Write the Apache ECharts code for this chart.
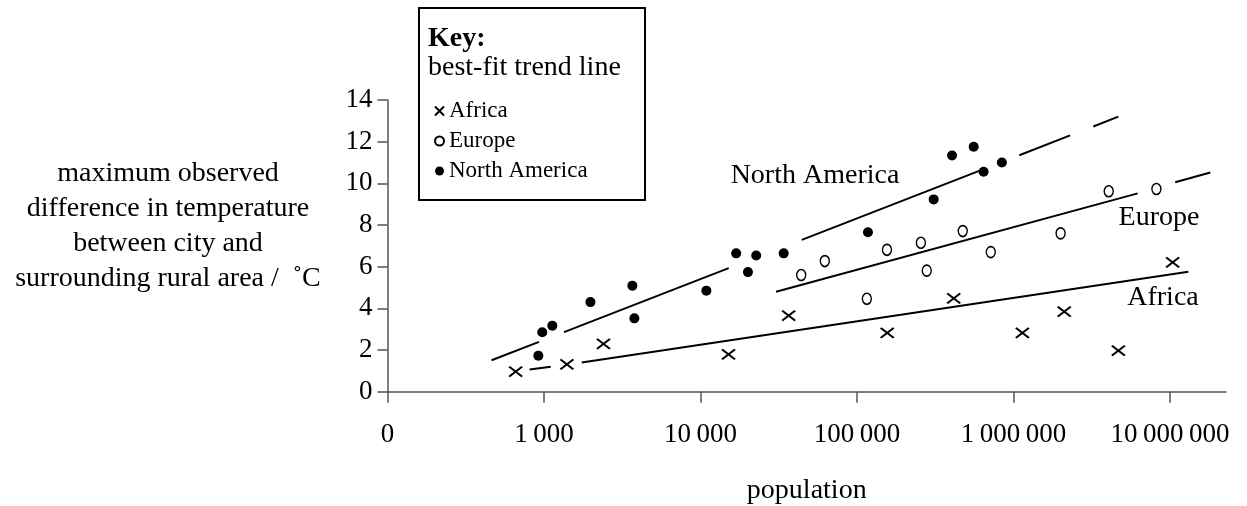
<!DOCTYPE html>
<html>
<head>
<meta charset="utf-8">
<script src="https://cdn.jsdelivr.net/npm/echarts@6/dist/echarts.min.js"></script>
<style>
html,body{margin:0;padding:0;background:#fff;}
#c{width:1247px;height:506px;}
</style>
</head>
<body>
<div id="c"></div>
<script>
// ---- data ----
const xTickValues = [100, 1000, 10000, 100000, 1000000, 10000000];
const xTickLabels = ['0', '1\u2009000', '10\u2009000', '100\u2009000', '1\u2009000\u2009000', '10\u2009000\u2009000'];

const africaPop = [659, 1400, 2400, 15100, 36600, 156000, 415000, 1140000, 2110000, 4680000, 10400000];
const africaVal = [0.96, 1.31, 2.29, 1.79, 3.65, 2.82, 4.48, 2.82, 3.84, 1.97, 6.21];

const europePop = [44000, 62300, 115600, 155400, 256000, 279000, 474000, 716000, 2000000, 4060000, 8190000];
const europeVal = [5.60, 6.27, 4.46, 6.81, 7.15, 5.81, 7.71, 6.70, 7.60, 9.62, 9.73];

const naPop = [920, 975, 1130, 1980, 3670, 3780, 10900, 16900, 20100, 22700, 34000, 117500, 309000, 405000, 557000, 644000, 843000];
const naVal = [1.73, 2.85, 3.17, 4.30, 5.09, 3.52, 4.85, 6.64, 5.74, 6.54, 6.64, 7.65, 9.23, 11.34, 11.76, 10.56, 11.00];

// best-fit trend lines, drawn as broken segments (null = gap)
const naTrendPop = [462, 929, null, 1343, 15140, null, 44360, 609500, null, 1089000, 2301000, null, 3236000, 4677000];
const naTrendVal = [1.51, 2.39, null, 2.86, 5.93, null, 7.29, 10.61, null, 11.35, 12.30, null, 12.73, 13.20];
const euTrendPop = [30400, 6220000, null, 10800000, 18100000];
const euTrendVal = [4.80, 9.52, null, 10.05, 10.52];
const afTrendPop = [809, 1104, null, 1742, 13100000];
const afTrendVal = [1.07, 1.20, null, 1.40, 5.76];

// ---- build ----
const FONT = "'Liberation Serif','Times New Roman',serif";
const AXC = '#555';
const CROSS = 'path://M0,0L10,10M0,10L10,0';
function pts(xs, ys) { return xs.map((x, i) => (x === null ? ['-', '-'] : [x, ys[i]])); }
function labelFor(v) {
  const r = Math.round(v);
  const i = xTickValues.findIndex(t => Math.abs(t - r) / t < 1e-6);
  return i >= 0 ? xTickLabels[i] : '';
}
const trendStyle = { type: 'line', symbol: 'none', connectNulls: false, silent: true,
  lineStyle: { color: '#000', width: 2 }, z: 2 };

const chart = echarts.init(document.getElementById('c'), null, { renderer: 'canvas' });
chart.setOption({
  animation: false,
  backgroundColor: '#fff',
  textStyle: { fontFamily: FONT, color: '#000' },
  grid: { left: 387.5, right: 21, top: 100, bottom: 114.3, containLabel: false, outerBoundsMode: 'none' },
  xAxis: {
    type: 'log', logBase: 10, min: 100, max: 22800000,
    name: 'population', nameLocation: 'middle', nameGap: 85,
    nameTextStyle: { fontFamily: FONT, fontSize: 28, color: '#000' },
    axisLine: { lineStyle: { color: AXC, width: 1.5 } },
    axisTick: { length: 11, lineStyle: { color: AXC, width: 1.5 }, customValues: xTickValues },
    axisLabel: { fontFamily: FONT, fontSize: 27, color: '#000', margin: 30,
      customValues: xTickValues, formatter: labelFor },
    splitLine: { show: false }, minorTick: { show: false }
  },
  yAxis: {
    type: 'value', min: 0, max: 14, interval: 2,
    axisLine: { show: true, lineStyle: { color: AXC, width: 1.5 } },
    axisTick: { show: true, length: 10, lineStyle: { color: AXC, width: 1.5 } },
    axisLabel: { fontFamily: FONT, fontSize: 27, color: '#000', margin: 15 },
    splitLine: { show: false }
  },
  legend: {
    orient: 'vertical', left: 429, top: 91, itemGap: 0, itemWidth: 9, itemHeight: 9,
    selectedMode: false,
    textStyle: { fontFamily: FONT, fontSize: 23, color: '#000', lineHeight: 30 },
    data: [
      { name: 'Africa', icon: CROSS },
      { name: 'Europe', icon: 'circle' },
      { name: 'North America', icon: 'circle' }
    ]
  },
  graphic: [
    { type: 'rect', left: 418, top: 7, shape: { width: 226, height: 192 },
      style: { fill: '#fff', stroke: '#000', lineWidth: 2 }, z: -1 },
    { type: 'text', left: 428, top: 25, style: { text: 'Key:', font: "bold 28px " + FONT, fill: '#000' } },
    { type: 'text', left: 428, top: 54, style: { text: 'best-fit trend line', font: "28px " + FONT, fill: '#000' } },
    { type: 'text', x: 168, y: 226, style: {
        text: 'maximum observed\ndifference in temperature\nbetween city and\nsurrounding rural area /  \u02daC',
        font: "28px " + FONT, fill: '#000', align: 'center', verticalAlign: 'middle', lineHeight: 35 } },
    { type: 'text', x: 815, y: 176, style: { text: 'North America', font: "28px " + FONT, fill: '#000', align: 'center', verticalAlign: 'middle' } },
    { type: 'text', x: 1159, y: 218, style: { text: 'Europe', font: "28px " + FONT, fill: '#000', align: 'center', verticalAlign: 'middle' } },
    { type: 'text', x: 1163, y: 298, style: { text: 'Africa', font: "28px " + FONT, fill: '#000', align: 'center', verticalAlign: 'middle' } }
  ],
  series: [
    Object.assign({ name: 'naTrend', data: pts(naTrendPop, naTrendVal) }, trendStyle),
    Object.assign({ name: 'euTrend', data: pts(euTrendPop, euTrendVal) }, trendStyle),
    Object.assign({ name: 'afTrend', data: pts(afTrendPop, afTrendVal) }, trendStyle),
    { name: 'Africa', type: 'scatter', symbol: CROSS, symbolSize: [13, 10], z: 3,
      itemStyle: { color: 'transparent', borderColor: '#000', borderWidth: 2, opacity: 1 },
      data: pts(africaPop, africaVal) },
    { name: 'Europe', type: 'scatter', symbol: 'circle', symbolSize: [9, 11], z: 3,
      itemStyle: { color: '#fff', borderColor: '#000', borderWidth: 1.5, opacity: 1 },
      data: pts(europePop, europeVal) },
    { name: 'North America', type: 'scatter', symbol: 'circle', symbolSize: 10, z: 3,
      itemStyle: { color: '#000', opacity: 1 },
      data: pts(naPop, naVal) }
  ]
});
</script>
</body>
</html>
